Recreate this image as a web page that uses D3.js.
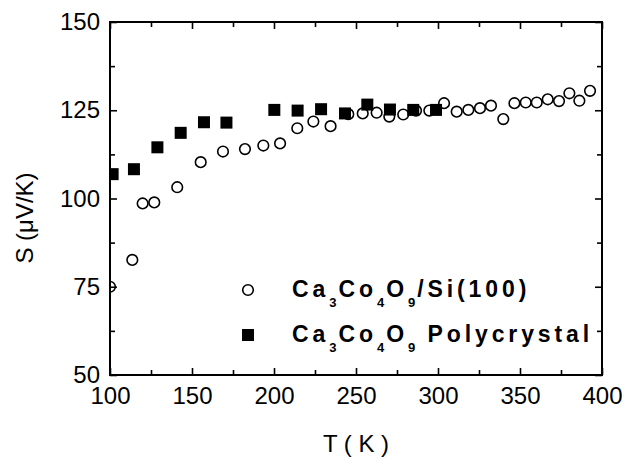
<!DOCTYPE html>
<html>
<head>
<meta charset="UTF-8">
<title>Seebeck coefficient vs T</title>
<style>
  body { margin: 0; background: #fff; }
  text { font-family: "Liberation Sans", Arial, sans-serif; }
</style>
</head>
<body>
<script src="https://d3js.org/d3.v7.min.js"></script>
<script>
// film on Si(100), open circles
var filmT = [100, 113.6, 119.9, 127.0, 141.0, 155.3, 168.9, 182.3, 193.5, 203.7, 214.2, 224.0, 234.5, 245.3,
             254.1, 262.6, 270.3, 278.8, 286.6, 294.7, 303.7, 311.4, 318.5, 325.6, 332.3, 339.8, 346.6,
             353.5, 360.2, 366.9, 373.8, 380.1, 386.2, 392.7];
var filmS = [75.0, 82.6, 98.6, 98.9, 103.2, 110.3, 113.3, 114.0, 115.0, 115.6, 119.9, 121.8, 120.5, 123.9,
             124.1, 124.3, 123.2, 123.8, 124.9, 124.9, 127.0, 124.6, 125.1, 125.6, 126.3, 122.5, 127.0,
             127.2, 127.2, 128.1, 127.6, 129.8, 127.7, 130.5];
// polycrystal, filled squares
var polyT = [101.6, 114.6, 128.9, 143.1, 157.3, 171.0, 200.2, 214.4, 228.7, 243.3, 256.9, 270.7, 284.9, 298.8];
var polyS = [106.9, 108.3, 114.5, 118.6, 121.6, 121.5, 125.1, 124.9, 125.3, 124.1, 126.6, 125.2, 125.1, 125.1];

var xMajor = [100, 150, 200, 250, 300, 350, 400];
var xMinor = [125, 175, 225, 275, 325, 375];
var yMajor = [50, 75, 100, 125, 150];
var yMinor = [62.5, 87.5, 112.5, 137.5];

var W = 625, H = 459;
var margin = { top: 22, right: 23, bottom: 84, left: 110 },
    width = W - margin.left - margin.right,
    height = H - margin.top - margin.bottom;

var svg = d3.select("body").append("svg")
    .attr("width", W)
    .attr("height", H);

var g = svg.append("g")
    .attr("transform", "translate(" + margin.left + "," + margin.top + ")");

var x = d3.scaleLinear().domain([100, 400]).range([0, width]);
var y = d3.scaleLinear().domain([50, 150]).range([height, 0]);

function styleAxis(sel) {
  sel.select(".domain").remove();
  sel.selectAll("line").attr("stroke", "#000").attr("stroke-width", 1.6);
  sel.selectAll("text").attr("fill", "#000").attr("font-size", 24)
    .style("font-family", "'Liberation Sans', Arial, sans-serif");
}

// major ticks, pointing inward
g.append("g").attr("transform", "translate(0," + height + ")")
  .call(d3.axisBottom(x).tickValues(xMajor).tickSize(-7).tickPadding(12).tickFormat(d3.format("d")))
  .call(styleAxis);
g.append("g")
  .call(d3.axisLeft(y).tickValues(yMajor).tickSize(-7).tickPadding(10).tickFormat(d3.format("d")))
  .call(styleAxis);
g.append("g")
  .call(d3.axisTop(x).tickValues(xMajor).tickSize(-7).tickFormat(""))
  .call(styleAxis);
g.append("g").attr("transform", "translate(" + width + ",0)")
  .call(d3.axisRight(y).tickValues(yMajor).tickSize(-7).tickFormat(""))
  .call(styleAxis);

// minor ticks
g.append("g").attr("transform", "translate(0," + height + ")")
  .call(d3.axisBottom(x).tickValues(xMinor).tickSize(-5).tickFormat(""))
  .call(styleAxis);
g.append("g")
  .call(d3.axisTop(x).tickValues(xMinor).tickSize(-5).tickFormat(""))
  .call(styleAxis);
g.append("g")
  .call(d3.axisLeft(y).tickValues(yMinor).tickSize(-5).tickFormat(""))
  .call(styleAxis);
g.append("g").attr("transform", "translate(" + width + ",0)")
  .call(d3.axisRight(y).tickValues(yMinor).tickSize(-5).tickFormat(""))
  .call(styleAxis);

// frame
g.append("rect")
  .attr("width", width).attr("height", height)
  .attr("fill", "none").attr("stroke", "#000").attr("stroke-width", 2);

g.append("clipPath").attr("id", "clip")
  .append("rect").attr("width", width).attr("height", height);

var film = filmT.map(function(t, i) { return { t: t, s: filmS[i] }; });
var poly = polyT.map(function(t, i) { return { t: t, s: polyS[i] }; });

var plot = g.append("g").attr("clip-path", "url(#clip)");

plot.selectAll("rect.poly")
  .data(poly)
  .enter().append("rect")
  .attr("class", "poly")
  .attr("x", d => x(d.t) - 6)
  .attr("y", d => y(d.s) - 6)
  .attr("width", 12).attr("height", 12)
  .attr("fill", "#000");

plot.selectAll("circle.film")
  .data(film)
  .enter().append("circle")
  .attr("class", "film")
  .attr("cx", d => x(d.t))
  .attr("cy", d => y(d.s))
  .attr("r", 5.3)
  .attr("fill", "none")
  .attr("stroke", "#000")
  .attr("stroke-width", 1.6);

// legend
var leg = svg.append("g");
leg.append("circle").attr("cx", 248).attr("cy", 290).attr("r", 5.3)
  .attr("fill", "none").attr("stroke", "#000").attr("stroke-width", 1.6);
leg.append("rect").attr("x", 242).attr("y", 329).attr("width", 12).attr("height", 12)
  .attr("fill", "#000");

// chemical formula with dropped subscripts
function formula(sel, parts) {
  var down = false;
  parts.forEach(function(p) {
    var ts = sel.append("tspan").text(p[0]);
    if (p[1]) {
      ts.attr("font-size", 13).attr("dy", down ? 0 : 10).attr("letter-spacing", 2);
      down = true;
    } else {
      ts.attr("dy", down ? -10 : 0);
      down = false;
    }
  });
}

var t1 = leg.append("text").attr("x", 292).attr("y", 297)
  .attr("font-size", 23).attr("font-weight", "bold").attr("letter-spacing", 3.9);
formula(t1, [["Ca", 0], ["3", 1], ["Co", 0], ["4", 1], ["O", 0], ["9", 1], ["/Si(100)", 0]]);

var t2 = leg.append("text").attr("x", 292).attr("y", 342)
  .attr("font-size", 23).attr("font-weight", "bold").attr("letter-spacing", 3.9);
formula(t2, [["Ca", 0], ["3", 1], ["Co", 0], ["4", 1], ["O", 0], ["9", 1], [" Polycrystal", 0]]);

// axis titles
svg.append("text")
  .attr("x", margin.left + width / 2).attr("y", 452)
  .attr("text-anchor", "middle").attr("font-size", 24)
  .attr("xml:space", "preserve")
  .text("T ( K )");

svg.append("text")
  .attr("transform", "translate(33,218) rotate(-90)")
  .attr("text-anchor", "middle").attr("font-size", 24)
  .attr("xml:space", "preserve")
  .text("S (μV/K)");
</script>
</body>
</html>
